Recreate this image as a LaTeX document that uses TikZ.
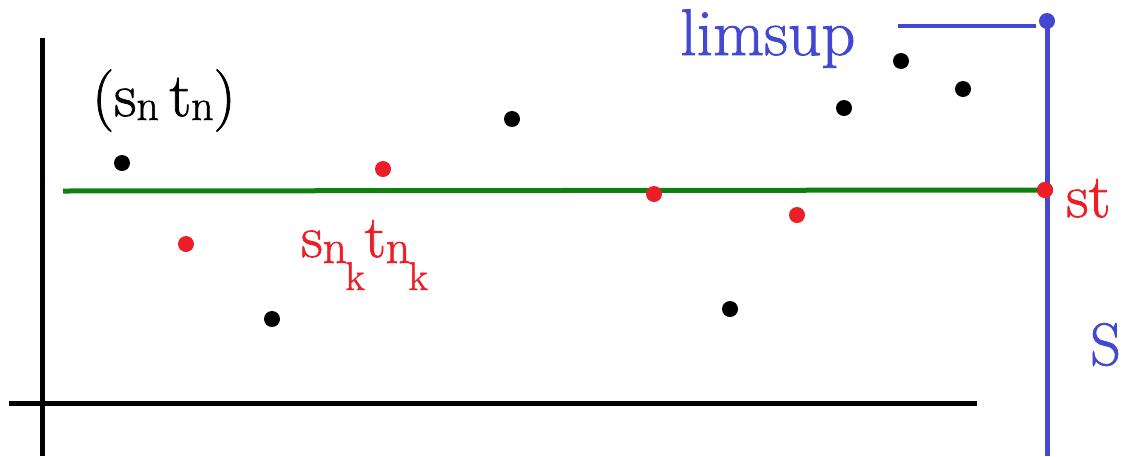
\documentclass[tikz,border=0pt]{standalone}
\usepackage{fontspec}
\setmainfont{Latin Modern Roman}[FakeBold=0]
\definecolor{myblue}{RGB}{66,72,208}
\definecolor{myred}{RGB}{236,30,40}
\definecolor{mygreen}{RGB}{14,128,14}
\newfontfamily\lblfont{Latin Modern Roman}[FakeBold=1.2]
\tikzset{
  blackdot/.style={circle,inner sep=0pt,minimum size=16pt,fill=black},
  reddot/.style={circle,inner sep=0pt,minimum size=16pt,fill=myred},
  bluedot/.style={circle,inner sep=0pt,minimum size=16pt,fill=myblue},
  lbl/.style={inner sep=0pt,anchor=base west,font=\lblfont\fontsize{60}{72}\selectfont},
  axis/.style={line width=5pt,black},
  greenline/.style={line width=5pt,mygreen},
  blueline/.style={line width=5pt,myblue}
}
\begin{document}
\begin{tikzpicture}[x=1pt,y=-1pt]
\useasboundingbox (0,0) rectangle (1121,456);
% axes
\coordinate (ytop) at (42,38);
\coordinate (ybot) at (42,456);
\coordinate (xl) at (9,403);
\coordinate (xr) at (977,403);
\draw[axis] (ytop) -- (ybot);
\draw[axis] (xl) -- (xr);
% blue limsup lines
\coordinate (bbot) at (1047,456);
\coordinate (hl) at (898,26);
\coordinate (hr) at (1036,26);
\coordinate (gl) at (63,191);
\node[bluedot] (limdot) at (1047,21) {};
\draw[blueline] (bbot) -- (limdot.center);
\draw[line width=4.5pt,myblue] (hl) -- (hr);
% green line
\node[reddot] (stdot) at (1045,190) {};
\draw[greenline] (gl) -- (stdot.center);
\node[reddot] at (stdot) {};
% black dots
\node[blackdot] (b1) at (122,163) {};
\node[blackdot] (b2) at (272,319) {};
\node[blackdot] (b3) at (512,119) {};
\node[blackdot] (b4) at (730,309) {};
\node[blackdot] (b5) at (844,108) {};
\node[blackdot] (b6) at (901,61) {};
\node[blackdot] (b7) at (963,89) {};
% red dots
\node[reddot] (r1) at (186,244) {};
\node[reddot] (r2) at (383,169) {};
\node[reddot] (r3) at (654,194) {};
\node[reddot] (r4) at (797,215) {};
% labels
\node[lbl,text=myblue,font=\lblfont\fontsize{66}{78}\selectfont] (limsup) at (680,55) {limsup};
\node[lbl,font=\lblfont\fontsize{62}{74}\selectfont] (sntn) at (92,116) {(s\raisebox{-4pt}{\fontsize{44}{44}\selectfont n}\,t\raisebox{-4pt}{\fontsize{44}{44}\selectfont n})};
\node[lbl,text=myred] (snk) at (301,257) {s\raisebox{-6pt}{\fontsize{48}{48}\selectfont n\kern-2pt\raisebox{-27pt}{\fontsize{40}{40}\selectfont k}}t\raisebox{-6pt}{\fontsize{48}{48}\selectfont n\kern-2pt\raisebox{-27pt}{\fontsize{40}{40}\selectfont k}}};
\node[lbl,text=myred,font=\lblfont\fontsize{62}{74}\selectfont] (st) at (1066,217) {st};
\node[lbl,text=myblue] (S) at (1090,365) {S};
\end{tikzpicture}
\end{document}
